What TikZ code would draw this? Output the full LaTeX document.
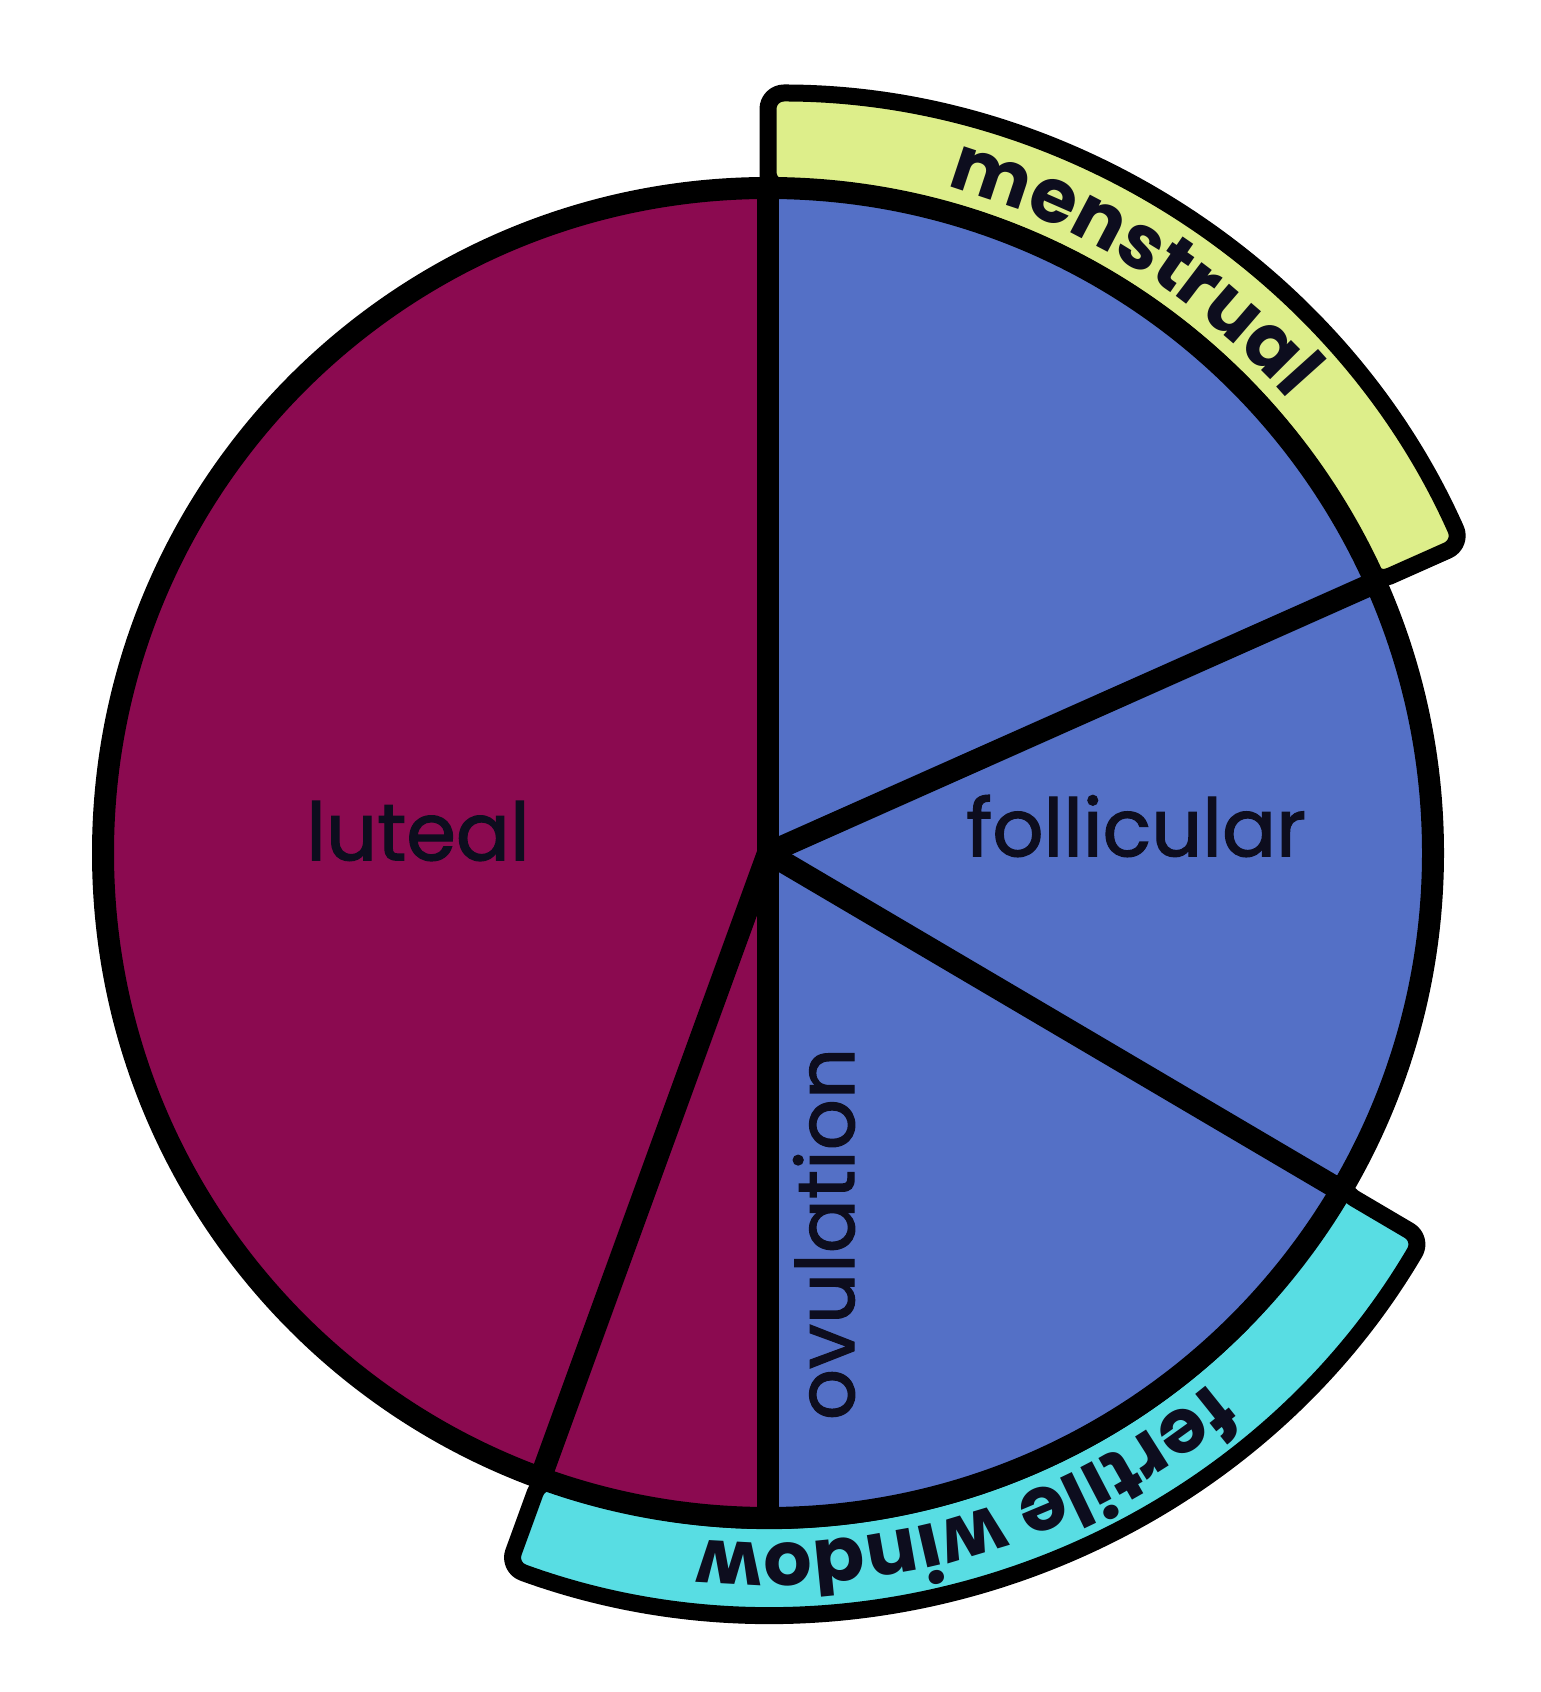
\documentclass[tikz,border=0pt]{standalone}
\usepackage{fontspec}
\newfontfamily\popfont{Poppins}
\newfontfamily\popmed{Poppins}[FakeBold=1.6]
\usetikzlibrary{decorations.text}
\definecolor{lutcol}{HTML}{8B0A50}
\definecolor{folcol}{HTML}{5470C6}
\definecolor{mencol}{HTML}{DDEE8A}
\definecolor{fercol}{HTML}{58DDE3}
\definecolor{inkcol}{HTML}{0D0D1E}
\begin{document}
\begin{tikzpicture}[x=0.5pt,y=0.5pt,
  pieline/.style={draw=black,line width=11pt,line cap=round,line join=round},
  bandline/.style={draw=black,line width=8.5pt,rounded corners=8pt,line join=round},
  phasetext/.style={font=\popmed\fontsize{40}{40}\selectfont,text=inkcol,inner sep=0pt},
  bandtext/.style={decorate,decoration={text along path,text align=center,text color=inkcol,
     text={|\popfont\bfseries\fontsize{38}{38}\selectfont|#1}}}]
\useasboundingbox (0,0) rectangle (1541,1692);
\fill[white] (0,0) rectangle (1541,1692);
\def\R{665}
\def\Rb{760}
\coordinate (O) at (768,839);
\coordinate (top) at ([shift={(90:\R)}]O);
\coordinate (bot) at ([shift={(-90:\R)}]O);
\coordinate (ur) at ([shift={(24:\R)}]O);
\coordinate (lr) at ([shift={(-30.5:\R)}]O);
\coordinate (ll) at ([shift={(-110:\R)}]O);
% menstrual band
\path[fill=mencol,bandline] (top) -- ([shift={(90:\Rb)}]O) arc[start angle=90,end angle=24,radius=\Rb]
   -- (ur) arc[start angle=24,end angle=90,radius=\R] -- cycle;
% fertile window band
\path[fill=fercol,bandline] (lr) -- ([shift={(-30.5:\Rb)}]O) arc[start angle=-30.5,end angle=-110,radius=\Rb]
   -- (ll) arc[start angle=-110,end angle=-30.5,radius=\R] -- cycle;
% sectors
\fill[lutcol] (O) -- (top) arc[start angle=90,end angle=270,radius=\R] -- cycle;
\fill[folcol] (O) -- (bot) arc[start angle=-90,end angle=90,radius=\R] -- cycle;
% outline and dividers
\draw[pieline] (O) circle[radius=\R];
\draw[pieline] (top) -- (bot);
\draw[pieline] (O) -- (ur);
\draw[pieline] (O) -- (lr);
\draw[pieline] (O) -- (ll);
% labels
\node[phasetext] (lut) at (418,861) {luteal};
\node[phasetext] (fol) at (1136,866) {follicular};
\node[phasetext,rotate=90] (ovu) at (824,458) {ovulation};
\path[bandtext=menstrual] ([shift={(90:690)}]O) arc[start angle=90,end angle=26,radius=690];
\path[bandtext={fertile window}] ([shift={(-40:690)}]O) arc[start angle=-40,end angle=-106,radius=690];
\end{tikzpicture}
\end{document}
